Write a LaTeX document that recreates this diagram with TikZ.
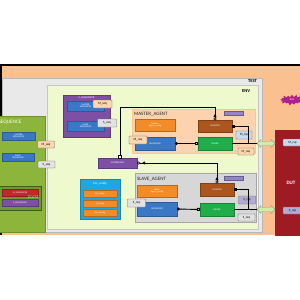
\documentclass[tikz,border=0pt]{standalone}
\usepackage{fontspec}
\setmainfont{Carlito}
\usetikzlibrary{arrows.meta,shapes.symbols,calc}
\definecolor{peach}{HTML}{FAC08F}
\definecolor{testgrey}{HTML}{E9E9E9}
\definecolor{testedge}{HTML}{B8B8B8}
\definecolor{envfill}{HTML}{EEF9CE}
\definecolor{seqgreen}{HTML}{8DB53C}
\definecolor{darkgreen}{HTML}{6E992F}
\definecolor{vpurple}{HTML}{7D50A5}
\definecolor{bluebox}{HTML}{3A78C6}
\definecolor{orangebox}{HTML}{F28C28}
\definecolor{monbrown}{HTML}{AA561E}
\definecolor{drvgreen}{HTML}{1FAE4A}
\definecolor{tagpeach}{HTML}{FBD6AE}
\definecolor{taggrey}{HTML}{E2E2E2}
\definecolor{tagblue}{HTML}{C4DCEC}
\definecolor{taglav}{HTML}{B3AAD6}
\definecolor{portpurple}{HTML}{9484CC}
\definecolor{envcyan}{HTML}{1FA7DF}
\definecolor{magentab}{HTML}{B0208A}
\definecolor{dutred}{HTML}{9E1B24}
\definecolor{agentpeach}{HTML}{FCD3AE}
\definecolor{slavegrey}{HTML}{D7D7D7}
\definecolor{ifgreen}{HTML}{CDEEA6}
\definecolor{mseqred}{HTML}{C4262E}
\begin{document}
\begin{tikzpicture}[x=1pt,y=-1pt,
  every node/.style={inner sep=0pt, outer sep=0pt},
  sz/.style 2 args={minimum width=#1pt, minimum height=#2pt},
  blk/.style={draw=#1!75!black, line width=0.3pt, fill=#1, text=white,
    font=\fontsize{2.3}{2.5}\selectfont, align=center},
  tag/.style={draw=gray!80!black, line width=0.3pt, fill=#1, text=black,
    font=\fontsize{3.2}{3.4}\selectfont, rounded corners=0.6pt},
  frame/.style={line width=0.5pt},
  title/.style={font=\fontsize{5}{5.5}\selectfont, text=black!85},
  conn/.style={draw=black, line width=0.9pt},
  thick conn/.style={draw=black, line width=1.8pt},
  ifarrow/.style={draw=gray!80, line width=0.4pt, fill=ifgreen}
]
\useasboundingbox (0,0) rectangle (300,300);
\clip (0,0) rectangle (300,300);
% background
\fill[peach] (0,65) rectangle (300,235);
\fill[black] (0,63.5) rectangle (300,66);
\fill[black] (0,63.5) rectangle (2,235);
% TEST and ENV
\node[frame, draw=testedge, fill=testgrey, sz={260}{154}] (test) at (132,155) {};
\node[font=\bfseries\fontsize{4.6}{5}\selectfont, anchor=north east] (testl) at (257,79.5) {TEST};
\node[frame, draw=testedge!80, fill=envfill, sz={211}{144}] (env) at (152.5,157) {};
\node[font=\bfseries\fontsize{4.6}{5}\selectfont, anchor=north east] (envl) at (250,90) {ENV};

% SEQUENCE (left, partly cut)
\node[frame, draw=seqgreen!80!black, fill=seqgreen, sz={50}{116}] (seq) at (20,174) {};
\node[anchor=west, text=white, font=\fontsize{5.2}{5.5}\selectfont] (seql) at (-1.5,122.5) {SEQUENCE};
\node[blk=bluebox, sz={33}{8}] (sms) at (18.5,136) {MASTER\\SEQUENCER};
\node[tag=tagpeach, sz={17}{7}] (smt) at (46,144.5) {M\_seq};
\node[blk=bluebox, sz={32}{8}] (sss) at (18,157) {SLAVE\\SEQUENCER};
\node[tag=taggrey, sz={17}{7}] (sst) at (46.5,164.5) {S\_seq};
\node[frame, draw=darkgreen!60!black, fill=darkgreen, sz={44}{24}] (cast) at (19,198) {};
\node[blk=mseqred, sz={36}{7}] (msq) at (20,192.5) {M\_SEQUENCER};
\node[blk=vpurple, sz={36}{7}] (ssq) at (20,202.5) {S\_SEQUENCER};
\node[text=green!60!white, font=\itshape\fontsize{5}{5}\selectfont] (castl) at (33,197.5) {\$cast};

% V_SEQUENCER
\node[frame, draw=vpurple!75!black, fill=vpurple, sz={47}{42}] (vseq) at (86.5,116) {};
\node[text=white, font=\fontsize{2.6}{2.8}\selectfont] (vseql) at (86.5,98) {V\_SEQUENCER};
\node[blk=bluebox, sz={37}{10}] (vms) at (85.5,106) {MASTER\\SEQUENCER};
\node[tag=tagpeach, sz={19}{8}] (vmt) at (102.5,104) {M\_seq};
\node[blk=bluebox, sz={37}{10}] (vss) at (85.5,126) {SLAVE\\SEQUENCER};
\node[tag=taggrey, sz={19}{8}] (vst) at (107,123) {S\_seq};

% SCOREBOARD
\node[blk=vpurple, sz={39}{10}] (sb) at (117.5,163) {SCOREBOARD};

% Env_config
\node[frame, draw=envcyan!80!black, fill=envcyan, sz={40}{40}] (envc) at (100,199) {};
\node[text=white, font=\fontsize{3}{3.2}\selectfont] (envcl) at (100,184) {Env\_config};
\node[blk=orangebox, sz={34}{7}] (mcfg) at (100,193.5) {M\_Config};
\node[blk=orangebox, sz={34}{7}] (scfg) at (100,203.5) {S\_Config};
\node[blk=orangebox, sz={34}{7}] (ecfg) at (100,212.5) {Env\_Config};

% MASTER_AGENT
\node[frame, draw=orange!45, fill=agentpeach, sz={123}{44}] (ma) at (193.5,131) {};
\node[title, anchor=west] (mal) at (134,114.5) {MASTER\_AGENT};
\node[blk=orangebox, sz={40}{12}] (macfg) at (155,125) {Master\\Agent\_config};
\node[blk=monbrown, sz={34}{12}] (mmon) at (215,126) {MONITOR};
\node[blk=bluebox, sz={40}{13}] (mseq) at (155,143.5) {SEQUENCER};
\node[blk=drvgreen, sz={34}{13}] (mdrv) at (215,143.5) {DRIVER};
\node[tag=tagpeach, sz={18}{8}] (mreqa) at (138,140) {M\_req};
\node[fill=portpurple, draw=portpurple!70!black, line width=0.2pt, sz={19}{4}] (map) at (233.5,113) {};
\node[tag=tagblue, sz={16}{8}] (mrspa) at (244,135) {M\_rsp};
\node[tag=tagpeach, sz={16}{7}] (mreqb) at (246,151.5) {M\_req};

% SLAVE_AGENT
\node[frame, draw=gray!70, fill=slavegrey, sz={121}{49}] (sa) at (195.5,197.5) {};
\node[title, anchor=west] (sal) at (137,179.5) {SLAVE\_AGENT};
\node[blk=orangebox, sz={40}{12}] (sacfg) at (157,191) {Slave\\Agent\_config};
\node[blk=monbrown, sz={34}{13}] (smon) at (217,189.5) {MONITOR};
\node[blk=bluebox, sz={40}{14}] (sseq) at (157,209) {SEQUENCER};
\node[blk=drvgreen, sz={34}{13}] (sdrv) at (217,209.5) {DRIVER};
\node[tag=taggrey, sz={18}{8}] (sreqa) at (136.5,203) {S\_req};
\node[fill=portpurple, draw=portpurple!70!black, line width=0.2pt, sz={19}{4}] (sap) at (233.5,178) {};
\node[tag=taglav, sz={17}{8}] (srspa) at (247,200) {S\_rsp};
\node[tag=taggrey, sz={17}{7}] (sreqb) at (246.5,217.5) {S\_req};

% DUT
\node[fill=dutred, sz={32}{106}] (dut) at (291,183) {};
\node[text=white, font=\bfseries\fontsize{5}{5}\selectfont] (dutl) at (291,183) {DUT};
\node[tag=tagblue, sz={19}{7}] (dmrsp) at (292.5,142.5) {M\_rsp};
\node[tag=taglav, sz={19}{7}] (dsrsp) at (292.5,210.5) {S\_rsp};

% starburst
\node[starburst, fill=magentab, draw=none, minimum width=26pt, minimum height=12pt,
  starburst point height=3pt, text=white, font=\fontsize{2.5}{2.5}\selectfont] (bus) at (292,100) {BUS};

% interface arrows (double-headed)
\coordinate (mif) at (266,143.5);
\coordinate (sif) at (266,209.5);
\foreach \c in {mif,sif}{
  \draw[ifarrow] ($(\c)+(-9,0)$) -- ($(\c)+(-5,-4)$) -- ($(\c)+(-5,-2)$) -- ($(\c)+(5,-2)$)
    -- ($(\c)+(5,-4)$) -- ($(\c)+(9,0)$) -- ($(\c)+(5,4)$) -- ($(\c)+(5,2)$)
    -- ($(\c)+(-5,2)$) -- ($(\c)+(-5,4)$) -- cycle;
}
\coordinate (mifw) at ($(mif)+(-9,0)$);
\coordinate (sifw) at ($(sif)+(-9,0)$);

% connectors: master agent
\draw[conn, {Circle[open,length=3pt,width=3pt]}-{Square[open,length=3pt,width=3pt]}] (mseq.east) -- (mdrv.west);
\draw[thick conn] (mdrv.east) -- (mifw);
\coordinate (mj) at ($(mmon.east)+(16,0)$);
\draw[conn, {Square[length=2.5pt,width=3pt]}-] (mmon.east) -- (mj) -- (mj |- mdrv.east);
% connectors: slave agent
\draw[conn, {Circle[open,length=3pt,width=3pt]}-{Square[open,length=3pt,width=3pt]}] (sseq.east) -- (sdrv.west);
\draw[thick conn] (sdrv.east) -- (sifw);
\coordinate (sj) at ($(smon.east)+(14,0)$);
\draw[conn, {Square[length=2.5pt,width=3pt]}-] (smon.east) -- (sj) -- (sj |- sdrv.east);

% scoreboard connections
\coordinate (c1) at (120,107);
\draw[conn] (mmon.north) -- (mmon.north |- c1) -- (c1) -- (c1 |- sb.north);
\draw[conn, -{Latex[length=3pt,width=3.5pt]}] (mmon.north) -- ++(0,-6);
\node[draw=black, fill=white, line width=0.5pt, circle, minimum size=2.6pt] (mc) at ($(mmon.north)+(0,-1)$) {};
\node[draw=black, fill=white, line width=0.5pt, minimum size=2.6pt] (sbsq) at ($(sb.north)+(2.5,-1.3)$) {};
\draw[conn] (smon.north) -- (smon.north |- sb.east) -- (sb.east);
\draw[conn, -{Latex[length=3pt,width=3.5pt]}] (smon.north) -- ++(0,-6);
\node[draw=black, fill=white, line width=0.5pt, circle, minimum size=2.6pt] (sc) at ($(smon.north)+(0,-1)$) {};
\node[draw=black, fill=white, line width=0.5pt, circle, minimum size=2.6pt] (sbc) at ($(sb.east)+(1.5,0)$) {};
\draw[conn, -{Latex[length=3pt,width=3.5pt]}] ($(sb.east)+(9,0)$) -- ($(sb.east)+(5,0)$);
\end{tikzpicture}
\end{document}
